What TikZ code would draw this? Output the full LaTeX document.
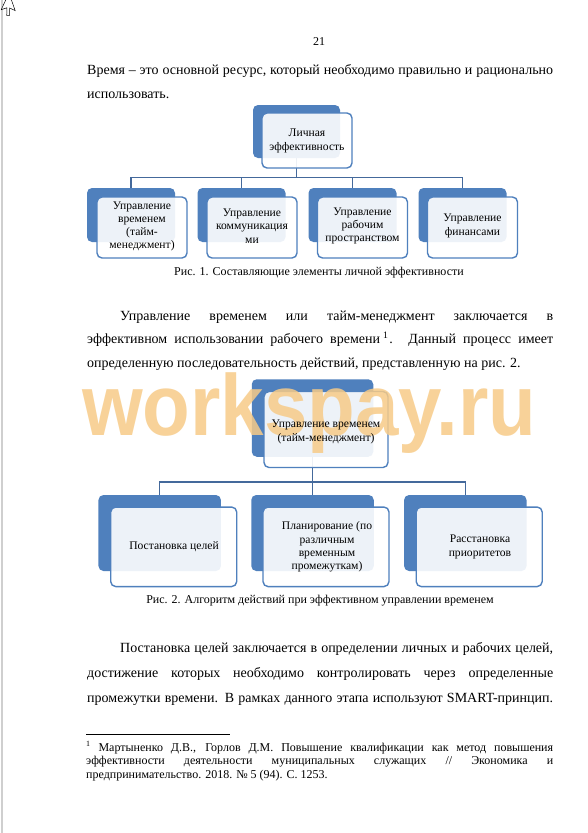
\documentclass[tikz,border=0pt]{standalone}
\usepackage{fontspec}
\setmainfont{Liberation Serif}
\newfontfamily\wmfont{Liberation Sans}
\definecolor{boxblue}{HTML}{4F80BD}
\definecolor{linkblue}{HTML}{44699B}
\definecolor{wmcol}{HTML}{F7CB88}
\definecolor{edgegray}{HTML}{CFCFCF}
\begin{document}
\begin{tikzpicture}[x=1pt,y=-1pt,
  backbox/.style={fill=boxblue, rounded corners=5pt, inner sep=0pt, draw=none},
  frontbox/.style={draw=boxblue, line width=1.4pt, rounded corners=5pt, fill=white, fill opacity=0.9, inner sep=0pt},
  conn/.style={draw=linkblue, line width=1.3pt},
  boxtext/.style={align=center, font=\fontsize{11.6}{13.2}\selectfont, inner sep=0pt},
  bodyline/.style={anchor=base west, inner sep=0pt, font=\fontsize{14}{16}\selectfont},
  noteline/.style={anchor=base west, inner sep=0pt, font=\fontsize{12}{14}\selectfont},
  caption/.style={anchor=base, inner sep=0pt, font=\fontsize{12}{14}\selectfont},
  wm/.style={anchor=base west, inner sep=0pt, text=wmcol, text opacity=0.85}
]
\useasboundingbox (0,0) rectangle (587,833);
\fill[white] (0,0) rectangle (587,833);
\draw[edgegray, line width=1.5pt] (2,0) -- (2,833);
% cursor
\begin{scope}
\clip (0,0) rectangle (60,40);
\draw[black, line width=0.5pt, fill=white, shift={(9,-7)}, rotate=-25, scale=1.15]
  (0,0) -- (0,16) -- (3.8,12.4) -- (6.4,18.4) -- (8.6,17.4) -- (6.1,11.6) -- (11.3,11.6) -- cycle;
\end{scope}

% page number
\node[caption] (pnum) at (319,45) {21};

% paragraph 1
\node[bodyline] (p1a) at (87,74) {\makebox[466pt][s]{Время – это основной ресурс, который необходимо правильно и рационально}};
\node[bodyline] (p1b) at (87,98) {использовать.};

% ---------- diagram 1 ----------
\node[backbox, minimum width=87pt, minimum height=53pt] (d1tb) at (296.5,131.5) {};
\node[backbox, minimum width=88pt, minimum height=54pt] (d1ab) at (131,215) {};
\node[backbox, minimum width=88pt, minimum height=54pt] (d1bb) at (241.5,215) {};
\node[backbox, minimum width=88pt, minimum height=54pt] (d1cb) at (352.5,215) {};
\node[backbox, minimum width=88pt, minimum height=54pt] (d1db) at (462.5,215) {};
\draw[conn] (d1tb.south) -- ++(0,19.5) coordinate (bus1);
\draw[conn] (bus1) -| (d1ab.north);
\draw[conn] (bus1) -| (d1bb.north);
\draw[conn] (bus1) -| (d1cb.north);
\draw[conn] (bus1) -| (d1db.north);
\node[frontbox, minimum width=90pt, minimum height=55pt] (d1tf) at (307,140.5) {};
\node[frontbox, minimum width=90pt, minimum height=61pt] (d1af) at (142,227.5) {};
\node[frontbox, minimum width=90pt, minimum height=61pt] (d1bf) at (252,227.5) {};
\node[frontbox, minimum width=90pt, minimum height=61pt] (d1cf) at (362.5,227.5) {};
\node[frontbox, minimum width=90pt, minimum height=61pt] (d1df) at (472.5,227.5) {};
\node[boxtext] (d1tt) at (307,141) {Личная\\эффективность};
\node[boxtext] (d1at) at (142,226.5) {Управление\\временем\\(тайм-\\менеджмент)};
\node[boxtext] (d1bt) at (252,226) {Управление\\коммуникация\\ми};
\node[boxtext] (d1ct) at (362.5,226) {Управление\\рабочим\\пространством};
\node[boxtext] (d1dt) at (472.5,226) {Управление\\финансами};
\node[caption] (cap1) at (319,275.5) {Рис. 1. Составляющие элементы личной эффективности};

% paragraph 2
\node[bodyline] (p2a) at (120,320) {\makebox[433pt][s]{Управление временем или тайм-менеджмент заключается в}};
\node[bodyline] (p2b) at (87,343.5) {\makebox[466pt][s]{эффективном использовании рабочего времени\kern3pt\textsuperscript{1}\kern1pt. Данный процесс имеет}};
\node[bodyline] (p2c) at (87,367) {определенную последовательность действий, представленную на рис. 2.};

% ---------- diagram 2 ----------
\node[backbox, minimum width=121.5pt, minimum height=77.5pt] (d2tb) at (312.5,418) {};
\node[backbox, minimum width=122.5pt, minimum height=76pt] (d2ab) at (159.7,533) {};
\node[backbox, minimum width=122.5pt, minimum height=76pt] (d2bb) at (312.5,533) {};
\node[backbox, minimum width=122.5pt, minimum height=76pt] (d2cb) at (465.3,533) {};
\draw[conn] (d2tb.south) -- ++(0,25) coordinate (bus2);
\draw[conn] (bus2) -| (d2ab.north);
\draw[conn] (bus2) -| (d2bb.north);
\draw[conn] (bus2) -| (d2cb.north);
\node[frontbox, minimum width=124pt, minimum height=76pt] (d2tf) at (326,429.5) {};
\node[frontbox, minimum width=126pt, minimum height=79.5pt] (d2af) at (173.7,546.8) {};
\node[frontbox, minimum width=126pt, minimum height=79.5pt] (d2bf) at (326,546.8) {};
\node[frontbox, minimum width=126pt, minimum height=79.5pt] (d2cf) at (479.2,546.8) {};

% watermark
\node[wm] (wmark) at (82,435) {\scalebox{0.9}[1]{\wmfont\bfseries\fontsize{86.7}{90}\selectfont workspay.ru}};

\node[boxtext] (d2tt) at (326,432) {Управление временем\\(тайм-менеджмент)};
\node[boxtext] (d2at) at (174,547) {Постановка целей};
\node[boxtext] (d2bt) at (327,547) {Планирование (по\\различным\\временным\\промежуткам)};
\node[boxtext] (d2ct) at (480,547) {Расстановка\\приоритетов};
\node[caption] (cap2) at (320,603) {Рис. 2. Алгоритм действий при эффективном управлении временем};

% paragraph 3
\node[bodyline] (p3a) at (120,652) {\makebox[433pt][s]{Постановка целей заключается в определении личных и рабочих целей,}};
\node[bodyline] (p3b) at (87,677) {\makebox[466pt][s]{достижение которых необходимо контролировать через определенные}};
\node[bodyline] (p3c) at (87,702) {\makebox[466pt][s]{промежутки времени. В рамках данного этапа используют SMART-принцип.}};

% footnote
\coordinate (fnl) at (86,734);
\coordinate (fnr) at (230,734);
\draw[black, line width=0.6pt] (fnl) -- (fnr);
\node[noteline] (fn1) at (86,751) {\makebox[467pt][s]{\textsuperscript{1} Мартыненко Д.В., Горлов Д.М. Повышение квалификации как метод повышения}};
\node[noteline] (fn2) at (86,764.5) {\makebox[467pt][s]{эффективности деятельности муниципальных служащих // Экономика и}};
\node[noteline] (fn3) at (86,778) {предпринимательство. 2018. № 5 (94). С. 1253.};
\end{tikzpicture}
\end{document}
